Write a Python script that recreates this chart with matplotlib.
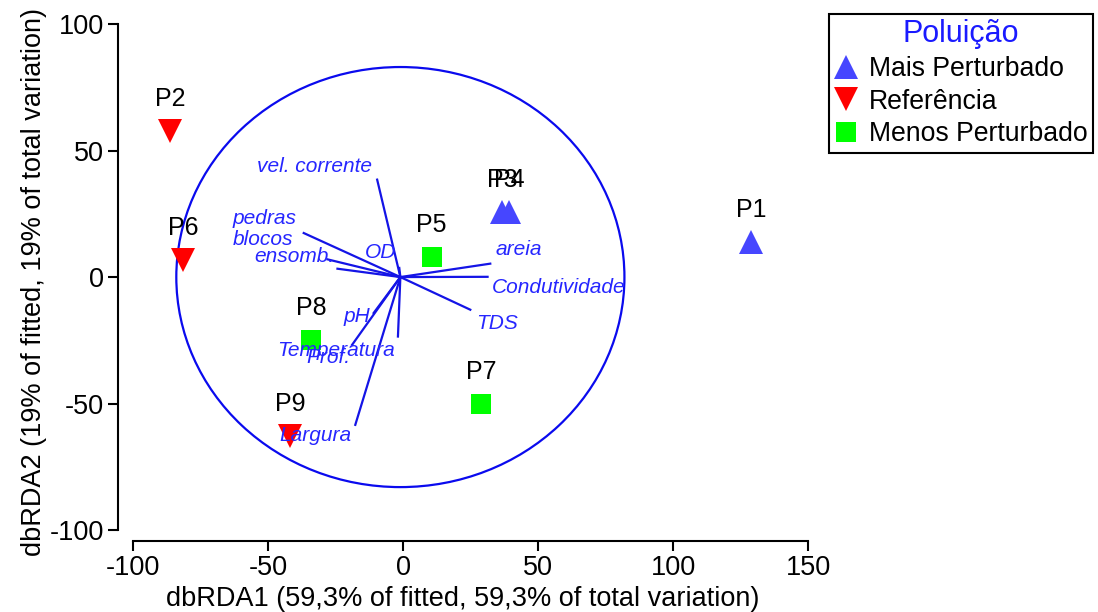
# dbRDA ordination of sites with environmental vectors (Poluição groups)

import matplotlib
matplotlib.use('AGG')
import matplotlib.pyplot as plt
from matplotlib.patches import Ellipse
from matplotlib.lines import Line2D

plt.rcParams['font.family'] = ['Liberation Sans', 'DejaVu Sans']
plt.rcParams['axes.unicode_minus'] = False

#%% data

sites = ['P1', 'P2', 'P3', 'P4', 'P5', 'P6', 'P7', 'P8', 'P9']
dbrda1 = [128.9, -86.3, 36.6, 39.4, 10.6, -81.5, 28.9, -34.1, -41.9]
dbrda2 = [13.8, 57.8, 25.8, 25.8, 7.8, 6.7, -50.3, -24.9, -62.8]
group = ['Mais Perturbado', 'Referência', 'Mais Perturbado', 'Mais Perturbado',
         'Menos Perturbado', 'Referência', 'Menos Perturbado', 'Menos Perturbado',
         'Referência']

groups = ['Mais Perturbado', 'Referência', 'Menos Perturbado']
group_marker = {'Mais Perturbado': '^', 'Referência': 'v', 'Menos Perturbado': 's'}
group_color = {'Mais Perturbado': '#4646ff', 'Referência': '#ff0000', 'Menos Perturbado': '#00ff00'}
group_size = {'Mais Perturbado': 17, 'Referência': 17, 'Menos Perturbado': 14.5}

variables = ['vel. corrente', 'pedras', 'blocos', 'ensomb.', 'OD', 'areia',
             'Condutividade', 'TDS', 'pH', 'Temperatura', 'Prof.', 'Largura']
vec_x = [-8.6, -35.8, -27.0, -23.3, -0.4, 33.3, 32.3, 25.9, -9.9, -17.9, -0.9, -16.7]
vec_y = [38.5, 17.4, 7.0, 3.3, 3.6, 5.3, 0.1, -12.9, -14.2, -26.8, -23.5, -58.4]

# where the vector names were placed (left edge, middle)
lab_x = [-54.1, -63.0, -63.0, -55.2, -14.1, 34.4, 33.0, 27.0, -21.9, -46.7, -35.9, -45.9]
lab_y = [43.5, 23.3, 15.0, 8.3, 9.9, 10.7, -4.3, -18.2, -15.4, -28.9, -31.6, -62.8]

circle_r = 83.0
centre = (-1.0, 0.0)

#%% plot

fig = plt.figure(figsize=(10.98, 6.12), dpi=100)
ax = fig.add_axes([118/1098, 71/612, 690/1098, 518/612])

ax.set_xlim(-105.6, 150)
ax.set_ylim(-104.3, 100.4)

vcol = '#1414e6'
ax.add_patch(Ellipse(centre, 2*circle_r, 2*circle_r, fill=False,
                     edgecolor='#0a0aee', linewidth=1.6, zorder=1))
for i in range(len(variables)):
    ax.plot([centre[0], centre[0]+vec_x[i]], [centre[1], centre[1]+vec_y[i]],
            color=vcol, linewidth=1.6, zorder=2)
    ax.text(lab_x[i], lab_y[i], variables[i], color='#2626ff', fontsize=15,
            style='italic', ha='left', va='center', zorder=4)

for i in range(len(sites)):
    g = group[i]
    ax.plot(dbrda1[i], dbrda2[i], marker=group_marker[g], color=group_color[g],
            markersize=group_size[g], linestyle='none', markeredgewidth=0, zorder=3)
    ax.annotate(sites[i], (dbrda1[i], dbrda2[i]), xytext=(0, 23),
                textcoords='offset points', ha='center', va='center',
                fontsize=18, color='k', zorder=4)

for s in ['top', 'right']:
    ax.spines[s].set_visible(False)
ax.spines['bottom'].set_bounds(-100, 150)
ax.spines['left'].set_bounds(-100, 100)
for s in ['bottom', 'left']:
    ax.spines[s].set_linewidth(1.5)

ax.set_xticks([-100, -50, 0, 50, 100, 150])
ax.set_yticks([-100, -50, 0, 50, 100])
ax.tick_params(direction='out', length=7, width=1.5, labelsize=19.5, pad=3)

ax.set_xlabel('dbRDA1 (59,3% of fitted, 59,3% of total variation)', fontsize=19.5, labelpad=4)
ax.set_ylabel('dbRDA2 (19% of fitted, 19% of total variation)', fontsize=19.5, labelpad=2)

handles = [Line2D([], [], marker=group_marker[g], color=group_color[g], linestyle='none',
                  markersize=group_size[g], markeredgewidth=0) for g in groups]
leg = ax.legend(handles, groups, title='Poluição', loc='upper left',
                bbox_to_anchor=(829/1098, 1 - 14/612), bbox_transform=fig.transFigure,
                fontsize=19.2, title_fontsize=22, frameon=True, fancybox=False,
                edgecolor='k', framealpha=1, handlelength=0.9, handletextpad=0.4,
                labelspacing=0.25, borderpad=0.2, borderaxespad=0, markerscale=1.0)
leg.get_frame().set_linewidth(1.5)
leg.get_title().set_color('#1a1aff')

fig.savefig('out.png', dpi=100)
